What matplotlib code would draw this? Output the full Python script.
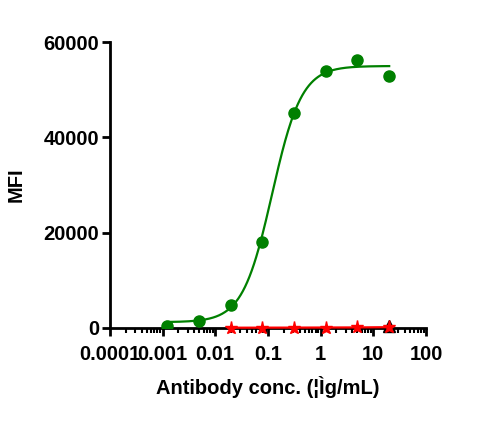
import numpy as np
import matplotlib.pyplot as plt
from matplotlib.ticker import LogLocator, FixedLocator

plt.rcParams['font.family'] = ['Liberation Sans', 'DejaVu Sans']
plt.rcParams['font.weight'] = 'bold'

# 4-fold dilution series (ug/mL)
conc = [20, 5, 1.25, 0.3125, 0.078125, 0.01953, 0.004883, 0.001221]
mfi_test = [53000, 56300, 54000, 45200, 18100, 4900, 1500, 500]

conc_ctrl = [20, 5, 1.25, 0.3125, 0.078125, 0.01953]
mfi_ctrl = [150, 100, 80, 60, 50, 40]

conc_blank = [20]
mfi_blank = [300]

# 4PL fit parameters (bottom, top, EC50, hill)
bottom, top, ec50, hill = 1200, 55000, 0.12, 1.55

fig = plt.figure(figsize=(4.88, 4.22), dpi=100)
ax = fig.add_axes([0.225, 0.223, 0.648, 0.677])

xs = np.logspace(np.log10(min(conc)), np.log10(max(conc)), 300)
ys = bottom + (top - bottom) / (1 + (ec50 / xs) ** hill)
ax.plot(xs, ys, color='green', lw=1.6, zorder=3)
ax.plot(conc, mfi_test, 'o', color='green', ms=8, zorder=4)

ax.plot(conc_blank, mfi_blank, '^', color='black', ms=9, zorder=4, clip_on=False)
ax.plot(conc_ctrl, mfi_ctrl, '-', color='red', lw=1.6, marker='*', ms=9.5, zorder=5,
        clip_on=False)

ax.set_xscale('log')
ax.set_xlim(1e-4, 100)
ax.set_ylim(0, 60000)
ax.xaxis.set_major_locator(FixedLocator([1e-4, 1e-3, 1e-2, 0.1, 1, 10, 100]))
ax.set_xticklabels(['0.0001', '0.001', '0.01', '0.1', '1', '10', '100'])
ax.xaxis.set_minor_locator(LogLocator(base=10, subs=np.arange(2, 10), numticks=20))
ax.set_yticks([0, 20000, 40000, 60000])

for s in ['top', 'right']:
    ax.spines[s].set_visible(False)
for s in ['left', 'bottom']:
    ax.spines[s].set_linewidth(2)
ax.tick_params(axis='both', which='major', width=2, length=6, labelsize=14.5, direction='out')
ax.tick_params(axis='x', which='major', pad=6)
ax.tick_params(axis='y', which='major', pad=1.5)
ax.tick_params(axis='x', which='minor', width=1.5, length=3.5)

ax.set_xlabel('Antibody conc. (\u00a6\u00ccg/mL)', fontsize=14.5, fontweight='bold', labelpad=9)
ax.set_ylabel('MFI', fontsize=14.5, fontweight='bold', labelpad=13)

fig.savefig('out.png', dpi=100)
